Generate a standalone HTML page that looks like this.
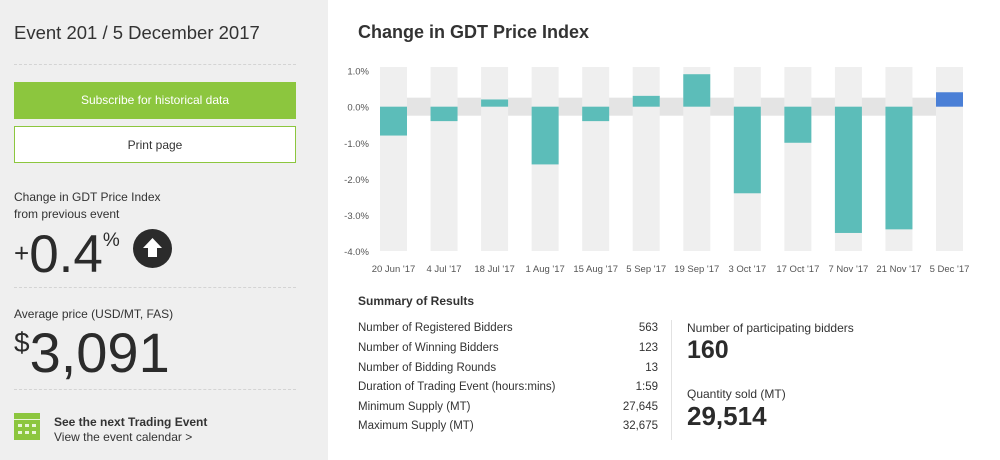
<!DOCTYPE html>
<html><head><meta charset="utf-8"><style>
*{margin:0;padding:0;box-sizing:border-box}
body{width:1000px;height:460px;overflow:hidden;font-family:"Liberation Sans",sans-serif;color:#333;background:#fff;position:relative}
.abs{position:absolute}
#left{left:0;top:0;width:328px;height:460px;background:#efefef}
.btn{position:absolute;left:14px;width:282px;height:37px;font-size:12px;text-align:center;line-height:37px}
.hr{position:absolute;left:14px;width:282px;border-top:1px dashed #d4d4d4}
.row{position:absolute;left:358px;width:300px;font-size:11.5px;color:#333}
.row span{position:absolute;right:0}
</style></head><body>
<div id="left" class="abs">
<div class="abs" style="left:14px;top:22px;font-size:18.5px;color:#333">Event 201 / 5 December 2017</div>
<div class="hr" style="top:64px"></div>
<div class="btn" style="top:82px;background:#8cc63e;color:#fff">Subscribe for historical data</div>
<div class="btn" style="top:126px;background:#fff;border:1px solid #8cc63e;color:#333">Print page</div>
<div class="abs" style="left:14px;top:189px;font-size:12px;line-height:17px">Change in GDT Price Index<br>from previous event</div>
<div class="abs" style="left:14px;top:210px;font-size:53px;line-height:62px;color:#2b2b2b"><span style="font-size:26px;vertical-align:10px">+</span>0.4<span style="font-size:19px;vertical-align:26px">%</span></div>
<div class="abs" style="left:133px;top:229px;width:39px;height:39px;border-radius:50%;background:#2b2b2b">
<svg width="39" height="39"><polygon points="19.5,9 29,19 24,19 24,28 15,28 15,19 10,19" fill="#fff"/></svg></div>
<div class="hr" style="top:287px"></div>
<div class="abs" style="left:14px;top:307px;font-size:12px">Average price (USD/MT, FAS)</div>
<div class="abs" style="left:14px;top:310px;font-size:56px;line-height:66px;color:#2b2b2b"><span style="font-size:28px;vertical-align:20px">$</span>3,091</div>
<div class="hr" style="top:389px"></div>
<div class="abs" style="left:14px;top:413px;width:26px;height:27px;background:#8cc63e">
<svg width="26" height="27"><g fill="#e8f5d8"><rect x="4" y="11" width="4" height="3"/><rect x="11" y="11" width="4" height="3"/><rect x="18" y="11" width="4" height="3"/><rect x="4" y="18" width="4" height="3"/><rect x="11" y="18" width="4" height="3"/><rect x="18" y="18" width="4" height="3"/></g><rect x="0" y="6" width="26" height="1" fill="#e8f5d8"/></svg></div>
<div class="abs" style="left:54px;top:415px;font-size:12px;font-weight:bold">See the next Trading Event</div>
<div class="abs" style="left:54px;top:430px;font-size:12px">View the event calendar &gt;</div>
</div>

<div class="abs" style="left:358px;top:22px;font-size:18px;font-weight:bold;color:#333">Change in GDT Price Index</div>
<svg id="chart" class="abs" style="left:0;top:0" width="1000" height="280"></svg>

<div class="abs" style="left:358px;top:294px;font-size:12px;font-weight:bold">Summary of Results</div>
<div class="row" style="top:322px">Number of Registered Bidders<span>563</span></div>
<div class="row" style="top:342px">Number of Winning Bidders<span>123</span></div>
<div class="row" style="top:362px">Number of Bidding Rounds<span>13</span></div>
<div class="row" style="top:381px">Duration of Trading Event (hours:mins)<span>1:59</span></div>
<div class="row" style="top:401px">Minimum Supply (MT)<span>27,645</span></div>
<div class="row" style="top:420px">Maximum Supply (MT)<span>32,675</span></div>
<div class="abs" style="left:671px;top:320px;height:120px;border-left:1px solid #e2e2e2"></div>
<div class="abs" style="left:687px;top:321px;font-size:12px">Number of participating bidders</div>
<div class="abs" style="left:687px;top:336px;font-size:25px;font-weight:bold;color:#2b2b2b">160</div>
<div class="abs" style="left:687px;top:387px;font-size:12px">Quantity sold (MT)</div>
<div class="abs" style="left:687px;top:401px;font-size:26px;font-weight:bold;color:#2b2b2b">29,514</div>

<script>
const categories=["20 Jun '17","4 Jul '17","18 Jul '17","1 Aug '17","15 Aug '17","5 Sep '17","19 Sep '17","3 Oct '17","17 Oct '17","7 Nov '17","21 Nov '17","5 Dec '17"];
const values=[-0.8,-0.4,0.2,-1.6,-0.4,0.3,0.9,-2.4,-1.0,-3.5,-3.4,0.4];
const yTicks=[1,0,-1,-2,-3,-4];
const yTickLabels=["1.0%","0.0%","-1.0%","-2.0%","-3.0%","-4.0%"];
const svg=document.getElementById('chart');const NS='http://www.w3.org/2000/svg';
const x0=373,x1=967,yTop=67,yBot=251;
const yMax=1.1,yMin=-4;
const y=v=>yTop+(yMax-v)/(yMax-yMin)*(yBot-yTop);
const first=393.5,last=949.5;
const step=(last-first)/(categories.length-1);
const bw=27;
const xc=i=>first+step*i;
function mk(t,a){const e=document.createElementNS(NS,t);for(const k in a)e.setAttribute(k,a[k]);svg.appendChild(e);return e;}
const band=mk('rect',{x:xc(0)+bw/2,y:y(0.25),width:xc(categories.length-1)-xc(0),height:y(-0.25)-y(0.25),fill:'#e4e4e4'});


categories.forEach((c,i)=>{
 const s=mk('rect',{x:xc(i)-bw/2,y:yTop,width:bw,height:yBot-yTop,fill:'#efefef'});
 
 
});
yTicks.forEach((t,i)=>{
 const e=mk('text',{x:x0-4,y:y(t)+4,'text-anchor':'end','font-size':'9.5',fill:'#555','font-family':'Liberation Sans'});
 e.textContent=yTickLabels[i];
 
 
});
values.forEach((v,i)=>{
 const top=y(Math.max(v,0)),bot=y(Math.min(v,0));
 const r=mk('rect',{x:xc(i)-bw/2,y:top,width:bw,height:bot-top,fill:i===values.length-1?'#4a7fd6':'#5cbdb9'});
 
 
});
categories.forEach((c,i)=>{
 const e=mk('text',{x:xc(i),y:272,'text-anchor':'middle','font-size':'9.5',fill:'#555','font-family':'Liberation Sans'});
 e.textContent=c;
 
 
});
</script>
</body></html>
